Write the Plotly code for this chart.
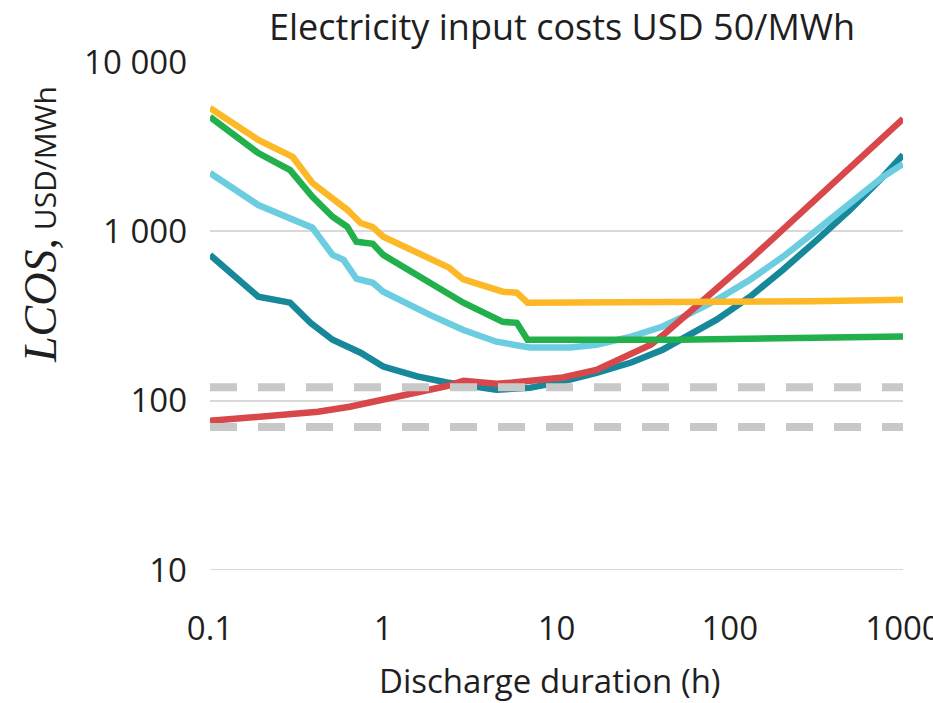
import plotly.graph_objects as go

# Discharge duration (h) and LCOS (USD/MWh) for each technology curve
teal_x = [0.1, 0.19, 0.29, 0.38, 0.51, 0.64, 0.74, 1.0, 1.57, 2.33, 4.5, 7.0, 10.9, 17, 27, 41, 54, 84, 131, 203, 319, 494, 767, 1000]
teal_y = [726, 411, 379, 288, 229, 208, 192, 159, 139, 128, 116, 119, 130, 146, 168, 200, 236, 301, 411, 593, 891, 1340, 2100, 2830]

cyan_x = [0.1, 0.19, 0.39, 0.51, 0.59, 0.70, 0.87, 1.0, 1.86, 2.88, 4.5, 7.0, 12, 17, 27, 41, 54, 84, 131, 203, 319, 494, 767, 1000]
cyan_y = [2210, 1430, 1050, 726, 679, 525, 497, 440, 321, 262, 223, 206, 206, 214, 239, 274, 313, 394, 518, 708, 1020, 1470, 2100, 2500]

red_x = [0.1, 0.21, 0.42, 0.64, 1.0, 1.57, 2.33, 2.9, 3.6, 4.5, 5.6, 7.0, 10.9, 17, 27, 35, 41, 54, 67, 84, 131, 203, 319, 494, 767, 1000]
red_y = [76, 81, 86, 92, 101, 113, 122, 131, 128, 126, 128, 131, 137, 152, 190, 214, 243, 309, 379, 451, 682, 1028, 1571, 2371, 3580, 4620]

green_x = [0.1, 0.19, 0.29, 0.39, 0.51, 0.62, 0.70, 0.87, 1.0, 2.4, 2.9, 4.9, 5.9, 6.8, 50, 1000]
green_y = [4740, 2900, 2300, 1600, 1220, 1064, 867, 844, 726, 422, 379, 292, 288, 229, 229, 239]

orange_x = [0.1, 0.19, 0.3, 0.39, 0.62, 0.74, 0.87, 1.0, 2.4, 2.9, 4.9, 5.9, 6.8, 50, 300, 1000]
orange_y = [5350, 3470, 2750, 1930, 1340, 1120, 1060, 930, 610, 520, 440, 434, 379, 380, 387, 394]

# Reference cost levels shown as dashed horizontals
ref_x = [0.1, 1000]
ref_levels = [120, 70]

x_ticks = [0.1, 1, 10, 100, 1000]
x_tick_text = ["0.1", "1", "10", "100", "1000"]
y_ticks = [10, 100, 1000, 10000]
y_tick_text = ["10", "100", "1 000", "10 000"]

FONT = "Open Sans"
TEXT = "#1f1f1f"
GRID = "#D9D9D9"

fig = go.Figure()

series = [
    (teal_x, teal_y, "#17879A"),
    (cyan_x, cyan_y, "#6DCDE0"),
    (red_x, red_y, "#D8484A"),
    (green_x, green_y, "#21B04B"),
    (orange_x, orange_y, "#FDB827"),
]
for xs, ys, col in series:
    fig.add_trace(go.Scatter(x=xs, y=ys, mode="lines",
                             line=dict(color=col, width=6.5),
                             hoverinfo="skip", showlegend=False))

for lvl in ref_levels:
    fig.add_trace(go.Scatter(x=ref_x, y=[lvl, lvl], mode="lines",
                             line=dict(color="#C8C8C8", width=8, dash="27px,21px"),
                             hoverinfo="skip", showlegend=False))

# bottom gridline sits on the lower edge of the range
fig.add_shape(type="line", xref="paper", yref="y", x0=0, x1=1,
              y0=y_ticks[0], y1=y_ticks[0], line=dict(color=GRID, width=2), layer="below")

fig.update_xaxes(type="log", range=[-1, 3], tickvals=x_ticks, ticktext=x_tick_text,
                 showgrid=False, zeroline=False, showline=False, ticks="",
                 ticklabelstandoff=36, ticklabeloverflow="allow", automargin=False,
                 tickfont=dict(family=FONT, size=33, color=TEXT))
fig.update_yaxes(type="log", range=[1, 4], tickvals=y_ticks, ticktext=y_tick_text,
                 showgrid=True, gridcolor=GRID, gridwidth=2,
                 zeroline=False, showline=False, ticks="",
                 ticklabelstandoff=22, automargin=False,
                 tickfont=dict(family=FONT, size=33, color=TEXT))

fig.update_layout(
    width=933, height=703,
    margin=dict(l=210, r=30, t=62, b=133, autoexpand=False),
    plot_bgcolor="white", paper_bgcolor="white",
    annotations=[
        dict(text="Electricity input costs USD 50/MWh", xref="paper", yref="paper",
             x=(562 - 210) / 693, y=1 + (62 - 27) / 508, xanchor="center", yanchor="middle",
             showarrow=False, font=dict(family=FONT, size=36, color=TEXT)),
        dict(text="Discharge duration (h)", xref="paper", yref="paper",
             x=(550 - 210) / 693, y=-(680 - 570) / 508, xanchor="center", yanchor="middle",
             showarrow=False, font=dict(family=FONT, size=33, color=TEXT)),
        dict(text="<span style='font-family:Liberation Serif;font-size:46px'><i>LCOS</i>,</span> USD/MWh",
             xref="paper", yref="paper", textangle=-90,
             x=-(210 - 40) / 693, y=(570 - 225) / 508, xanchor="center", yanchor="middle",
             showarrow=False, font=dict(family=FONT, size=30, color=TEXT)),
    ],
)

fig.write_html("out.html")
